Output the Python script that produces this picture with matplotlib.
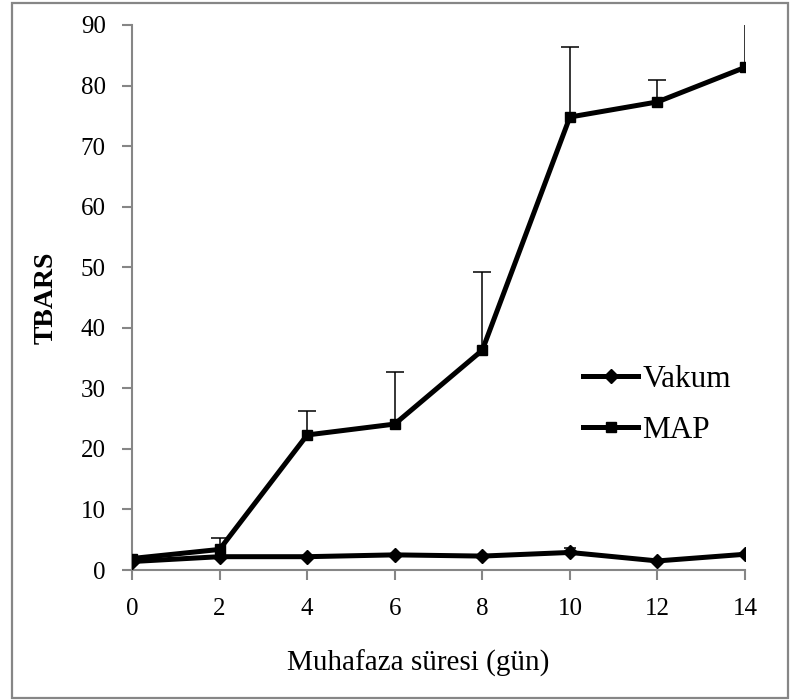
import matplotlib.pyplot as plt
from matplotlib.patches import Rectangle

plt.rcParams['font.family'] = ['Liberation Serif', 'DejaVu Serif']

days = [0, 2, 4, 6, 8, 10, 12, 14]
vakum = [1.4, 2.2, 2.2, 2.5, 2.3, 2.9, 1.5, 2.6]
vakum_err = [0.0, 0.0, 0.0, 0.0, 0.0, 0.7, 0.0, 0.0]
map_vals = [1.9, 3.4, 22.3, 24.1, 36.3, 74.8, 77.3, 83.0]
map_err = [0.0, 1.9, 3.9, 8.6, 12.9, 11.6, 3.6, 9.0]

fig = plt.figure(figsize=(7.91, 7.0), dpi=100)
ax = fig.add_axes([0.1669, 0.1857, 0.775, 0.7786])

# upper-only error bars (vertical line + top cap)
for vals, errs, cap in [(vakum, vakum_err, 9), (map_vals, map_err, 13)]:
    xs = [d for d, e in zip(days, errs) if e > 0]
    lo = [v for v, e in zip(vals, errs) if e > 0]
    hi = [v + e for v, e in zip(vals, errs) if e > 0]
    ax.vlines(xs, lo, hi, color='black', lw=1.1)
    ax.plot(xs, hi, ls='none', marker='_', ms=cap, mew=1.1, color='black')

ax.plot(days, vakum, color='black', lw=3.6, marker='D', ms=7, label='Vakum')
ax.plot(days, map_vals, color='black', lw=3.6, marker='s', ms=7, label='MAP')

ax.set_xlim(0, 14)
ax.set_ylim(0, 90)
ax.set_xticks(days)
ax.set_yticks(range(0, 91, 10))
for s in ['top', 'right']:
    ax.spines[s].set_visible(False)
for s in ['left', 'bottom']:
    ax.spines[s].set_color('#868686')
    ax.spines[s].set_linewidth(1.5)
    ax.spines[s].set_zorder(0)
ax.tick_params(axis='both', direction='out', length=7, width=1.5, color='#868686',
               labelsize=18)
ax.tick_params(axis='y', pad=12)
ax.tick_params(axis='x', pad=13)

ax.set_xlabel('Muhafaza süresi (gün)', fontsize=21)
ax.xaxis.set_label_coords(0.467, -0.146)
ax.set_ylabel('TBARS', fontsize=20, fontweight='bold', labelpad=16)

ax.legend(loc='center left', bbox_to_anchor=(0.736, 0.303), frameon=False,
          fontsize=22.5, handlelength=1.75, handletextpad=0.15, labelspacing=0.72,
          borderpad=0, borderaxespad=0)

fig.patches.append(Rectangle((12 / 791, 2 / 700), 776 / 791, 695 / 700,
                             transform=fig.transFigure, fill=False,
                             edgecolor='#868686', linewidth=1.6))

fig.savefig('out.png', dpi=100)
